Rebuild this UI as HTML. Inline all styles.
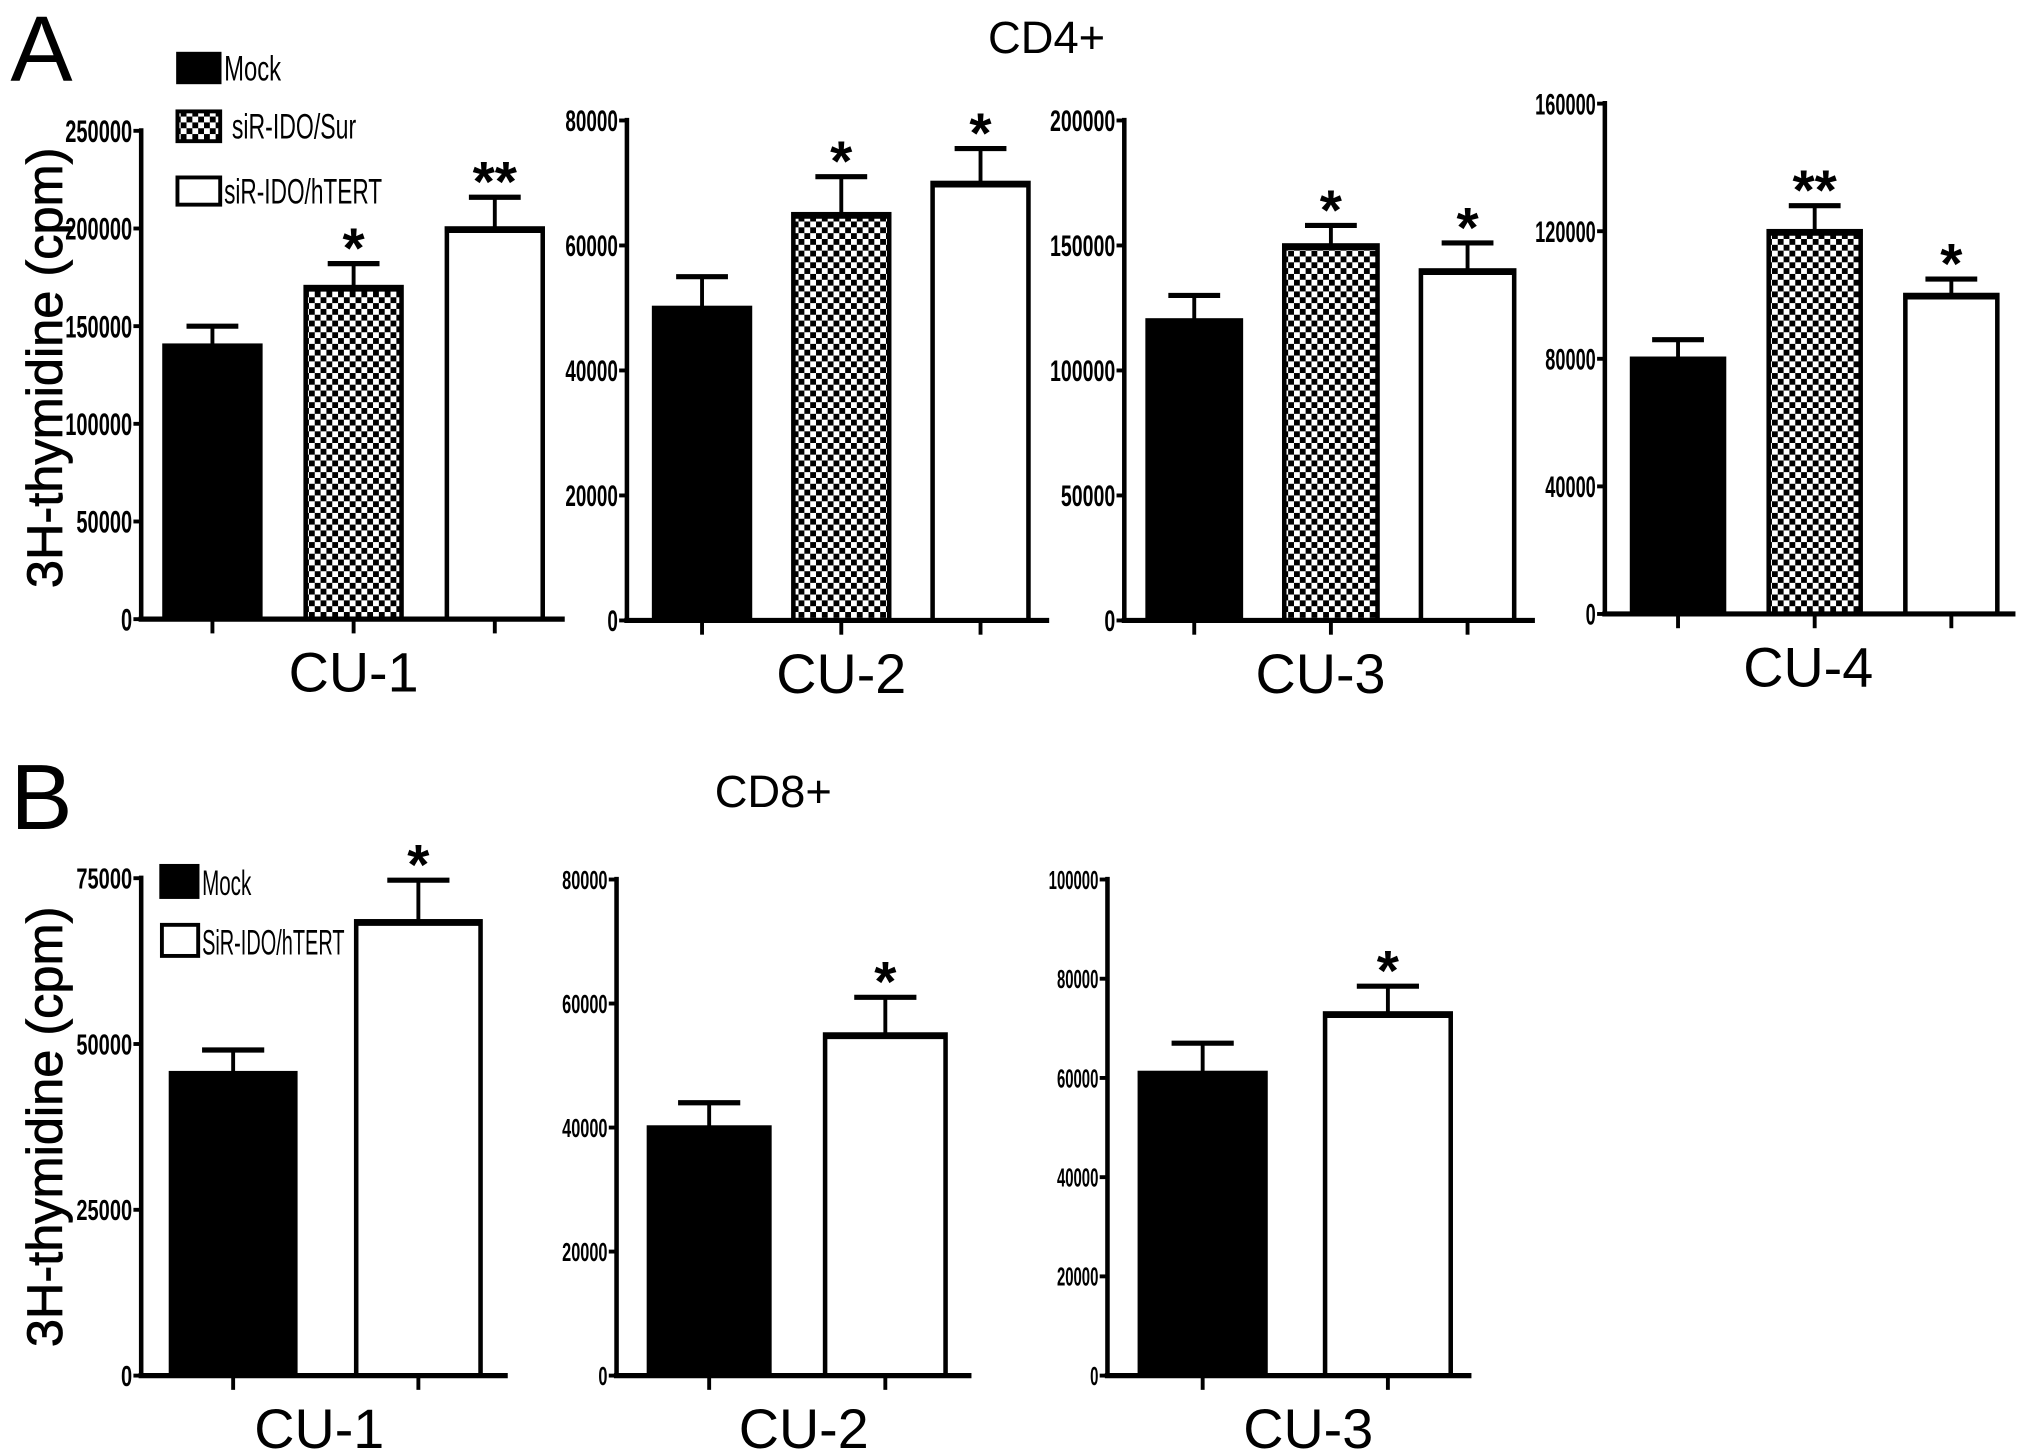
<!DOCTYPE html>
<html><head><meta charset="utf-8"><style>
html,body{margin:0;padding:0;background:#fff;}
svg{display:block;}
text{font-family:"Liberation Sans",sans-serif;fill:#000;}
</style></head><body>
<svg id="fig" width="2031" height="1455" viewBox="0 0 1568 1123.3" preserveAspectRatio="none" xmlns="http://www.w3.org/2000/svg">
<defs>
<pattern id="chk" width="9" height="9" patternUnits="userSpaceOnUse">
<rect width="9" height="9" fill="#fff"/><rect width="4.5" height="4.5" fill="#000"/><rect x="4.5" y="4.5" width="4.5" height="4.5" fill="#000"/>
</pattern>
</defs>
<text x="8" y="62" font-size="72">A</text>
<text x="8" y="640" font-size="72">B</text>
<text x="808" y="41" font-size="35" text-anchor="middle">CD4+</text>
<text x="597" y="623" font-size="35" text-anchor="middle">CD8+</text>
<text transform="translate(48,284) rotate(-90)" font-size="39" text-anchor="middle" stroke="#000" stroke-width="0.6">3H-thymidine (cpm)</text>
<text transform="translate(48,870) rotate(-90)" font-size="39" text-anchor="middle" stroke="#000" stroke-width="0.6">3H-thymidine (cpm)</text>
<g id="legA">
<rect x="137" y="41" width="33" height="23" fill="#000" stroke="#000" stroke-width="2"/>
<text x="173" y="62" font-size="27" textLength="44" lengthAdjust="spacingAndGlyphs">Mock</text>
<rect x="137" y="86" width="33" height="23" fill="url(#chk)" stroke="#000" stroke-width="3"/>
<text x="179" y="107" font-size="27" textLength="96" lengthAdjust="spacingAndGlyphs">siR-IDO/Sur</text>
<rect x="137" y="137" width="33" height="21" fill="#fff" stroke="#000" stroke-width="3"/>
<text x="173" y="157" font-size="27" textLength="122" lengthAdjust="spacingAndGlyphs">siR-IDO/hTERT</text>
</g>
<g id="legB">
<rect x="124" y="668" width="29" height="25" fill="#000" stroke="#000" stroke-width="2"/>
<text x="156" y="691" font-size="27" textLength="38" lengthAdjust="spacingAndGlyphs">Mock</text>
<rect x="125" y="714" width="28" height="24" fill="#fff" stroke="#000" stroke-width="3"/>
<text x="156" y="737" font-size="27" textLength="110" lengthAdjust="spacingAndGlyphs">SiR-IDO/hTERT</text>
</g>
<g id="plots"></g>
</svg>
<script>
// ---- data ----
const a1Values=[140000,170000,200000], a1Errors=[150000,182000,216000], a1Stars=["","*","**"];
const a1Ticks=[0,50000,100000,150000,200000,250000];
const a2Values=[50000,65000,70000], a2Errors=[55000,71000,75500], a2Stars=["","*","*"];
const a2Ticks=[0,20000,40000,60000,80000];
const a3Values=[120000,150000,140000], a3Errors=[130000,158000,151000], a3Stars=["","*","*"];
const a3Ticks=[0,50000,100000,150000,200000];
const a4Values=[80000,120000,100000], a4Errors=[86000,128000,105000], a4Stars=["","**","*"];
const a4Ticks=[0,40000,80000,120000,160000];
const b1Values=[45600,68500], b1Errors=[49100,74700], b1Stars=["","*"];
const b1Ticks=[0,25000,50000,75000];
const b2Values=[40000,55000], b2Errors=[44000,61000], b2Stars=["","*"];
const b2Ticks=[0,20000,40000,60000,80000];
const b3Values=[61000,73000], b3Errors=[67000,78500], b3Stars=["","*"];
const b3Ticks=[0,20000,40000,60000,80000,100000];
const fillsA=["#000","url(#chk)","#fff"], fillsB=["#000","#fff"];
const labels=["CU-1","CU-2","CU-3","CU-4","CU-1","CU-2","CU-3"];

const NS="http://www.w3.org/2000/svg";
const root=document.getElementById('plots');
function mk(tag,attrs,parent){const e=document.createElementNS(NS,tag);for(const k in attrs)e.setAttribute(k,attrs[k]);parent.appendChild(e);return e;}

function panel(id,L,values,errors,stars,ticks,fills,label){
  const g=mk('g',{},root);
  
  
  const max=ticks[ticks.length-1];
  const y=v=>L.base-(v/max)*(L.base-L.top);
  const x=i=>L.ax+L.off+i*L.step;
  values.forEach((v,i)=>{
    const cx=x(i)+L.w/2;
    const el=mk('line',{x1:cx,x2:cx,y1:y(v),y2:y(errors[i]),stroke:'#000','stroke-width':3},g);
    
    
    const cap=mk('line',{x1:cx-L.cap/2,x2:cx+L.cap/2,y1:y(errors[i]),y2:y(errors[i]),stroke:'#000','stroke-width':4},g);
    
    
    const r=mk('rect',{x:x(i),y:y(v),width:L.w,height:L.base-y(v),fill:fills[i],stroke:'#000','stroke-width':3.5},g);
    
    
    const tl=mk('line',{x1:x(i)-1.5,x2:x(i)+L.w+1.5,y1:y(v)+1,y2:y(v)+1,stroke:'#000','stroke-width':5},g);
    
    
    if(stars[i]){
      const s=mk('text',{x:cx,y:y(errors[i])+3,'font-size':44,'font-weight':'bold','text-anchor':'middle'},g);
      s.textContent=stars[i];
      
      
    }
    const tk=mk('line',{x1:cx,x2:cx,y1:L.base,y2:L.base+11,stroke:'#000','stroke-width':3},g);
    
    
  });
  const ya=mk('line',{x1:L.ax,x2:L.ax,y1:L.top-2,y2:L.base,stroke:'#000','stroke-width':3.5},g);
  
  
  const xa=mk('line',{x1:L.ax-2,x2:L.end,y1:L.base,y2:L.base,stroke:'#000','stroke-width':4},g);
  
  
  ticks.forEach(t=>{
    const tl=mk('line',{x1:L.ax-6,x2:L.ax,y1:y(t),y2:y(t),stroke:'#000','stroke-width':3},g);
    
    
    const s=String(t);
    const tx=mk('text',{x:L.ax-7-s.length*L.dw,y:y(t)+L.fs*0.36,'font-size':L.fs,'font-weight':'bold',textLength:s.length*L.dw,lengthAdjust:'spacingAndGlyphs'},g);
    tx.textContent=s;
    
    
  });
  const mid=x(0)+(x(values.length-1)+L.w-x(0))/2;
  const c=mk('text',{x:mid+L.lo,y:L.base+56,'font-size':43,'text-anchor':'middle'},g);
  c.textContent=label;
  
  
}
panel('panel-a-cu1',{ax:109,off:18,step:109,w:74,end:436,base:478,top:101,cap:40,fs:24,dw:8.6,lo:0},a1Values,a1Errors,a1Stars,a1Ticks,fillsA,labels[0]);
panel('panel-a-cu2',{ax:484,off:21,step:107.5,w:74,end:810,base:479,top:93,cap:40,fs:23,dw:8.1,lo:0},a2Values,a2Errors,a2Stars,a2Ticks,fillsA,labels[1]);
panel('panel-a-cu3',{ax:868,off:18,step:105.5,w:72,end:1185,base:479,top:93,cap:40,fs:23,dw:8.4,lo:-8},a3Values,a3Errors,a3Stars,a3Ticks,fillsA,labels[2]);
panel('panel-a-cu4',{ax:1239,off:21,step:105.5,w:71,end:1556,base:474,top:80,cap:40,fs:23,dw:7.8,lo:-5},a4Values,a4Errors,a4Stars,a4Ticks,fillsA,labels[3]);
panel('panel-b-cu1',{ax:109,off:23,step:143,w:96,end:392,base:1062,top:678,cap:48,fs:22,dw:8.6,lo:-5},b1Values,b1Errors,b1Stars,b1Ticks,fillsB,labels[4]);
panel('panel-b-cu2',{ax:476,off:25,step:136,w:93,end:750,base:1062,top:679,cap:48,fs:20,dw:7,lo:5},b2Values,b2Errors,b2Stars,b2Ticks,fillsB,labels[5]);
panel('panel-b-cu3',{ax:855,off:25,step:143,w:97,end:1136,base:1062,top:679,cap:48,fs:20,dw:6.4,lo:10},b3Values,b3Errors,b3Stars,b3Ticks,fillsB,labels[6]);
</script>
</body></html>
